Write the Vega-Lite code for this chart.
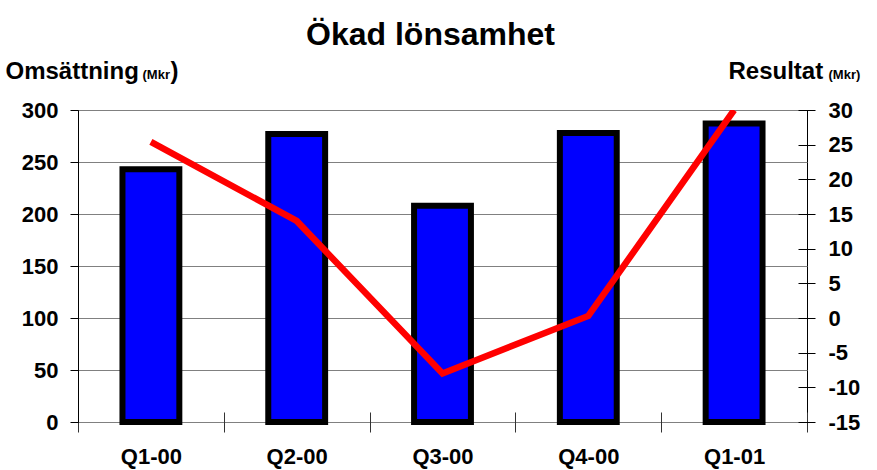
{
  "$schema": "https://vega.github.io/schema/vega-lite/v6.json",
  "width": 729,
  "height": 312,
  "autosize": "none",
  "padding": {"left": 78, "top": 110, "right": 70, "bottom": 48},
  "background": "white",
  "title": {
    "text": "Ökad lönsamhet",
    "font": "Liberation Sans",
    "fontSize": 32,
    "fontWeight": "bold",
    "color": "black",
    "anchor": "middle",
    "frame": "group",
    "dx": -12,
    "baseline": "alphabetic",
    "offset": -18
  },
  "config": {
    "view": {"stroke": "black", "strokeWidth": 1},
    "axis": {
      "labelFont": "Liberation Sans",
      "titleFont": "Liberation Sans",
      "labelFontWeight": "bold",
      "titleFontWeight": "bold",
      "labelColor": "black",
      "titleColor": "black"
    }
  },
  "data": {
    "values": [
      {"q": "Q1-00", "oms": 243, "res": 25.4},
      {"q": "Q2-00", "oms": 277, "res": 14.0},
      {"q": "Q3-00", "oms": 208, "res": -8.0},
      {"q": "Q4-00", "oms": 278, "res": 0.3},
      {"q": "Q1-01", "oms": 287, "res": 30.0}
    ]
  },
  "encoding": {
    "x": {
      "field": "q",
      "type": "nominal",
      "sort": null,
      "scale": {"paddingInner": 0, "paddingOuter": 0},
      "axis": {
        "title": null,
        "labelAngle": 0,
        "labelFontSize": 22,
        "labelBaseline": "top",
        "labelPadding": 14,
        "tickBand": "extent",
        "offset": -10,
        "tickSize": 20,
        "tickColor": "#333333",
        "domain": false,
        "grid": false
      }
    }
  },
  "layer": [
    {
      "mark": {"type": "bar", "fill": "#0000FF", "stroke": "black", "strokeWidth": 6, "width": {"band": 0.39}},
      "encoding": {
        "y": {
          "field": "oms",
          "type": "quantitative",
          "scale": {"domain": [0, 300], "nice": false, "zero": true},
          "axis": {
            "orient": "left",
            "values": [0, 50, 100, 150, 200, 250, 300],
            "labelFontSize": 22,
            "labelPadding": 12,
            "tickSize": 8,
            "tickColor": "black",
            "domainColor": "black",
            "grid": true,
            "gridColor": "#808080",
            "gridWidth": 1,
            "title": "Omsättning",
            "titleFontSize": 24,
            "titleAngle": 0,
            "titleAlign": "left",
            "titleBaseline": "alphabetic",
            "titleX": -73,
            "titleY": -32
          }
        }
      }
    },
    {
      "mark": {"type": "line", "color": "#FF0000", "strokeWidth": 6.5, "clip": true},
      "encoding": {
        "y": {
          "field": "res",
          "type": "quantitative",
          "scale": {"domain": [-15, 30], "nice": false, "zero": false},
          "axis": {
            "orient": "right",
            "values": [-15, -10, -5, 0, 5, 10, 15, 20, 25, 30],
            "labelExpr": "toString(datum.value)",
            "labelFontSize": 22,
            "labelPadding": 13,
            "offset": -9,
            "tickSize": 17,
            "tickColor": "black",
            "domain": false,
            "grid": false,
            "title": "Resultat",
            "titleFontSize": 24,
            "titleAngle": 0,
            "titleAlign": "left",
            "titleBaseline": "alphabetic",
            "titleX": -70,
            "titleY": -32
          }
        }
      }
    },
    {
      "mark": {"type": "point", "opacity": 0},
      "encoding": {
        "y": {
          "field": "oms",
          "type": "quantitative",
          "axis": {
            "orient": "left",
            "domain": false, "ticks": false, "labels": false, "grid": false,
            "title": "(Mkr",
            "titleFontSize": 13,
            "titleAngle": 0,
            "titleAlign": "left",
            "titleBaseline": "alphabetic",
            "titleX": 64,
            "titleY": -32
          }
        }
      }
    },
    {
      "mark": {"type": "point", "opacity": 0},
      "encoding": {
        "y": {
          "field": "oms",
          "type": "quantitative",
          "axis": {
            "orient": "left",
            "domain": false, "ticks": false, "labels": false, "grid": false,
            "title": ")",
            "titleFontSize": 24,
            "titleAngle": 0,
            "titleAlign": "left",
            "titleBaseline": "alphabetic",
            "titleX": 92,
            "titleY": -32
          }
        }
      }
    },
    {
      "mark": {"type": "point", "opacity": 0},
      "encoding": {
        "y": {
          "field": "res",
          "type": "quantitative",
          "axis": {
            "orient": "right",
            "domain": false, "ticks": false, "labels": false, "grid": false,
            "title": "(Mkr)",
            "titleFontSize": 13,
            "titleAngle": 0,
            "titleAlign": "left",
            "titleBaseline": "alphabetic",
            "titleX": 21,
            "titleY": -32
          }
        }
      }
    }
  ],
  "resolve": {"scale": {"y": "independent"}}
}
